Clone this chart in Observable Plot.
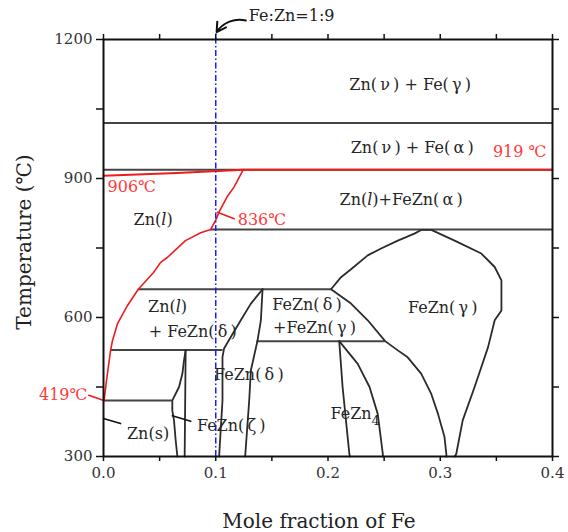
<!DOCTYPE html>
<html>
<head>
<meta charset="utf-8">
<script src="https://cdn.jsdelivr.net/npm/d3@7"></script>
<script src="https://cdn.jsdelivr.net/npm/@observablehq/plot@0.6"></script>
<style>
  html, body { margin: 0; padding: 0; background: #fff; }
  #chart { width: 568px; height: 532px; }
  #chart svg text { font-family: "DejaVu Serif", serif; }
</style>
</head>
<body>
<div id="chart"></div>
<script>
// ---- axis ticks ----
const xTicks = [0, 0.05, 0.1, 0.15, 0.2, 0.25, 0.3, 0.35, 0.4];
const xTickLabels = ["0.0", "", "0.1", "", "0.2", "", "0.3", "", "0.4"];
const yTicks = [300, 450, 600, 750, 900, 1050, 1200];
const yTickLabels = ["300", "", "600", "", "900", "", "1200"];

// ---- isotherms (T, from x1 to x2) ----
const isoT  = [1020, 919, 790, 661, 549, 530, 421];
const isoX1 = [0, 0, 0.0955, 0.031, 0.1366, 0.0063, 0];
const isoX2 = [0.4, 0.4, 0.4, 0.2027, 0.251, 0.1065, 0.0613];

// ---- red liquidus / 906-919 line ----
const liquidus = [[0.0004,419],[0.0027,464],[0.0063,529],[0.008,550],[0.0125,587],[0.0214,626],[0.031,661],[0.0446,697],[0.0509,719],[0.0571,730],[0.073,766],[0.0866,783],[0.0955,790],[0.1,810],[0.103,828],[0.110,860],[0.1164,882],[0.1238,916],[0.125,919]];
const line906 = [[0,906],[0.0655,912],[0.125,919],[0.4,919]];

// ---- phase boundaries ----
const zetaLeft   = [[0.0732,530],[0.0717,507],[0.0703,479],[0.0673,450],[0.0613,421],[0.0613,399],[0.0628,378],[0.0643,335],[0.0658,300]];
const zetaRight  = [[0.0732,530],[0.0723,300]];
const deltaLeft  = [[0.1417,661],[0.1313,630],[0.1223,594],[0.1134,558],[0.1074,533],[0.106,515],[0.106,421],[0.103,300]];
const deltaRight = [[0.1417,661],[0.1402,594],[0.1372,550],[0.1313,486],[0.1298,421],[0.1262,300]];
const gammaDome  = [[0.2027,661],[0.2116,687],[0.2205,704],[0.2354,734],[0.2473,749],[0.2622,766],[0.277,781],[0.283,789],[0.292,789],[0.3128,766],[0.3366,738],[0.3485,709],[0.3545,680],[0.3545,615],[0.3485,594],[0.3426,536],[0.3306,450],[0.320,378],[0.3143,306],[0.313,300]];
const gammaLeft  = [[0.2027,661],[0.2205,630],[0.2354,594],[0.2509,549],[0.2622,529],[0.271,514],[0.283,479],[0.292,435],[0.298,392],[0.3038,342],[0.3054,306],[0.3055,300]];
const gamma1Left = [[0.21,549],[0.213,450],[0.216,378],[0.219,306],[0.2195,300]];
const gamma1Right= [[0.21,549],[0.2265,500],[0.237,450],[0.2443,392],[0.2488,306],[0.249,300]];

// ---- composition marker Fe:Zn = 1:9 ----
const markerX = 0.1;
const markerT = [300, 1212];

// ---- region labels ----
const T = "\u2009";
const regionText = [`Zn(${T}ν${T}) + Fe(${T}γ${T})`, `Zn(${T}ν${T}) + Fe(${T}α${T})`, `Zn(l)+FeZn(${T}α${T})`, "Zn(l)", "Zn(l)", `+ FeZn(${T}δ${T})`, `FeZn(${T}δ${T})`, `+FeZn(${T}γ${T})`, `FeZn(${T}δ${T})`, `FeZn(${T}γ${T})`, "FeZn", "Zn(s)", `FeZn(${T}ζ${T})`];
const regionX = [0.2732, 0.275, 0.2652, 0.0442, 0.0571, 0.0795, 0.1813, 0.188, 0.1295, 0.3022, 0.2205, 0.0397, 0.1138];
const regionY = [1103, 967, 853, 810, 622, 568, 628, 577, 477, 620, 393, 348, 367];
const subText = ["4"]; const subX = [0.2425]; const subY = [376];

// ---- red temperature labels ----
const redText = ["906℃", "836℃", "419℃", "919 ℃"];
const redX = [0.0036, 0.1196, -0.0143, 0.3946];
const redY = [881, 810, 432, 957];
const redAnchor = ["start", "start", "end", "end"];
// callout leaders
const redLeaders = [[[0.1015,827],[0.1164,813]], [[-0.0131,432],[0.0003,421]]];
const blackLeaders = [[[0,382],[0.0152,371]], [[0.0613,388],[0.0777,376]]];

const noteText = ["Fe:Zn=1:9"]; const noteX = [0.1295]; const noteY = [1250];
const arrowFrom = [0.1268, 1241]; const arrowTo = [0.1008, 1216];

const isotherms = isoT.map((t, i) => ({T: t, x1: isoX1[i], x2: isoX2[i]}));
const regions = regionText.map((s, i) => ({s, x: regionX[i], y: regionY[i]}));
const reds = redText.map((s, i) => ({s, x: redX[i], y: redY[i], a: redAnchor[i]}));
const xLab = new Map(xTicks.map((t, i) => [t, xTickLabels[i]]));
const yLab = new Map(yTicks.map((t, i) => [t, yTickLabels[i]]));

const ink = "#2b2b2b";
const FF = "DejaVu Serif";
const curve = (pts, opt = {}) => Plot.line(pts, {x: d => d[0], y: d => d[1], stroke: ink, strokeWidth: 1.8, ...opt});

const chart = Plot.plot({
  width: 568, height: 532,
  marginLeft: 103, marginRight: 16, marginTop: 39, marginBottom: 76,
  x: {domain: [0, 0.4]},
  y: {domain: [300, 1200]},
  style: {fontFamily: FF, background: "#fff", color: "#222"},
  marks: [
    Plot.ruleY(isotherms, {y: "T", x1: "x1", x2: "x2", stroke: "#444", strokeWidth: 2}),
    curve(zetaLeft), curve(zetaRight), curve(deltaLeft), curve(deltaRight),
    curve(gammaDome), curve(gammaLeft), curve(gamma1Left), curve(gamma1Right),
    curve(line906, {stroke: "#ee1c1c", strokeWidth: 2}),
    curve(liquidus, {stroke: "#ee1c1c", strokeWidth: 1.6}),
    ...redLeaders.map(p => curve(p, {stroke: "#ee1c1c", strokeWidth: 1.6})),
    ...blackLeaders.map(p => curve(p, {stroke: "#111", strokeWidth: 1.6})),
    Plot.ruleX([markerX], {y1: markerT[0], y2: markerT[1], stroke: "#1a1aff", strokeWidth: 1.5, strokeDasharray: "6,2.5,1.5,2.5"}),
    Plot.arrow([0], {x1: () => arrowFrom[0], y1: () => arrowFrom[1], x2: () => arrowTo[0], y2: () => arrowTo[1], bend: -35, headLength: 9, stroke: "#111", strokeWidth: 2}),
    Plot.text(noteText, {x: noteX, y: noteY, text: d => d, textAnchor: "start", fontSize: 16, fontFamily: FF, fill: "#222"}),
    Plot.text(regions, {x: "x", y: "y", text: "s", fontSize: 16, fontFamily: FF, fill: "#262626"}),
    Plot.text(subText, {x: subX, y: subY, text: d => d, fontSize: 13, fontFamily: FF, fill: "#262626"}),
    Plot.text(reds, {x: "x", y: "y", text: "s", textAnchor: "start", filter: d => d.a === "start", fontSize: 16, fontFamily: FF, fill: "#ff3a3a"}),
    Plot.text(reds, {x: "x", y: "y", text: "s", textAnchor: "end", filter: d => d.a === "end", fontSize: 16, fontFamily: FF, fill: "#ff3a3a"}),
    Plot.frame({stroke: "#111", strokeWidth: 2}),
    Plot.axisX({anchor: "bottom", ticks: xTicks, tickFormat: d => xLab.get(d), tickSize: 5, tickPadding: 6, fontSize: 15, fontFamily: FF, label: null, stroke: "#111", strokeWidth: 1.5, fill: "#333"}),
    Plot.axisX({anchor: "top", ticks: xTicks, tickFormat: () => "", tickSize: 6, label: null, stroke: "#111", strokeWidth: 1.5}),
    Plot.axisY({anchor: "left", ticks: yTicks, tickFormat: d => yLab.get(d), tickSize: 7, tickPadding: 4, fontSize: 15, fontFamily: FF, label: null, stroke: "#111", strokeWidth: 1.5, fill: "#333"}),
    Plot.axisY({anchor: "right", ticks: yTicks, tickFormat: () => "", tickSize: 6, label: null, stroke: "#111", strokeWidth: 1.5}),
    Plot.text(["Temperature (℃)"], {frameAnchor: "left", textAnchor: "middle", lineAnchor: "middle", dx: -79, dy: -6, rotate: -90, fontSize: 20, fontFamily: FF, fill: "#222"}),
    Plot.text(["Mole fraction of Fe"], {frameAnchor: "bottom", textAnchor: "middle", lineAnchor: "middle", dx: -9, dy: 65, fontSize: 20, fontFamily: FF, fill: "#222"})
  ]
});

// italic "l" in Zn(l)
chart.querySelectorAll("text").forEach(t => {
  const s = t.textContent;
  if (t.children.length === 0 && s.includes("(l)")) {
    const [a, b] = s.split("(l)");
    t.textContent = "";
    t.appendChild(document.createTextNode(a + "("));
    const ts = document.createElementNS("http://www.w3.org/2000/svg", "tspan");
    ts.setAttribute("font-style", "italic");
    ts.textContent = "l";
    t.appendChild(ts);
    t.appendChild(document.createTextNode(")" + b));
  }
});

document.getElementById("chart").appendChild(chart);
</script>
</body>
</html>
